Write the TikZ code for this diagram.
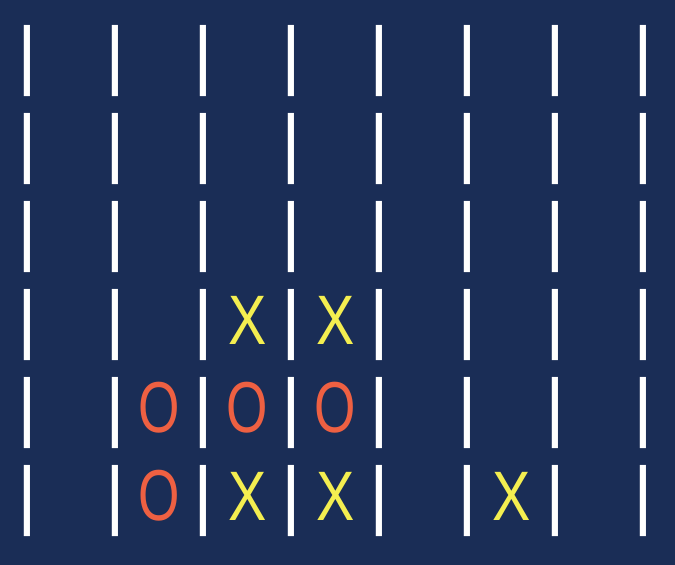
\documentclass[tikz,border=0pt]{standalone}
\usepackage{fontspec}
\setmainfont{Liberation Sans}
\definecolor{boardbg}{RGB}{26,45,86}
\definecolor{xyellow}{RGB}{244,238,80}
\definecolor{oorange}{RGB}{238,96,66}
\newcommand{\narrow}[1]{\scalebox{0.82}[1]{#1}}
\newcommand{\narrowo}[1]{\scalebox{0.76}[1.03]{#1}}
\tikzset{
  bar/.style={text=white, inner sep=0pt, anchor=base, font=\fontsize{76}{80}\selectfont},
  piece/.style={inner sep=0pt, anchor=base, font=\fontsize{70}{80}\selectfont},
  xpiece/.style={piece, text=xyellow},
  opiece/.style={piece, text=oorange}
}
\begin{document}
\begin{tikzpicture}[x=1pt, y=1pt]
    \fill[boardbg] (0,0) rectangle (675,565);
    \useasboundingbox (0,0) rectangle (675,565);

    % columns of bars, one row at a time
    \foreach \r in {1,...,6}
        \foreach \c in {0,...,7}
            \node[bar] (bar-\r-\c) at (27.5+88*\c, 572-88*\r) {|};

    % row 4
    \node[xpiece] (x-4-3) at (247.5, 220) {\narrow{X}};
    \node[xpiece] (x-4-4) at (335.5, 220) {\narrow{X}};

    % row 5
    \node[opiece] (o-5-2) at (159.5, 132) {\narrowo{O}};
    \node[opiece] (o-5-3) at (247.5, 132) {\narrowo{O}};
    \node[opiece] (o-5-4) at (335.5, 132) {\narrowo{O}};

    % row 6
    \node[opiece] (o-6-2) at (159.5, 44) {\narrowo{O}};
    \node[xpiece] (x-6-3) at (247.5, 44) {\narrow{X}};
    \node[xpiece] (x-6-4) at (335.5, 44) {\narrow{X}};
    \node[xpiece] (x-6-6) at (511.5, 44) {\narrow{X}};
\end{tikzpicture}
\end{document}
